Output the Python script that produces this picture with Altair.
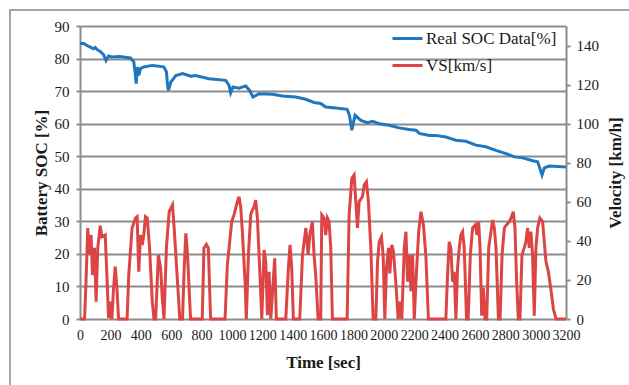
import altair as alt
import pandas as pd

SERIF = "Liberation Serif"
BLUE = "#1f77bf"
RED = "#dd4545"
GRID = "#8c8c8c"
TXT = "#1a1a1a"

# Battery SOC (%) vs time (s)
soc_time = [0, 25, 55, 88, 100, 111, 133, 155, 171, 188,
            210, 260, 332, 354, 362, 370, 378, 387, 398, 420,
            476, 530, 553, 569, 576, 582, 598, 631, 675, 730,
            761, 849, 959, 981, 992, 1007, 1047, 1091, 1117, 1139,
            1179, 1267, 1333, 1420, 1486, 1541, 1585, 1618, 1684, 1759,
            1774, 1790, 1811, 1849, 1893, 1926, 1970, 2035, 2101, 2167,
            2212, 2234, 2300, 2343, 2409, 2475, 2541, 2607, 2673, 2739,
            2805, 2860, 2915, 2980, 3013, 3028, 3042, 3057, 3090, 3200]
soc_pct = [84.6, 84.6, 83.8, 83.0, 83.4, 82.8, 82.2, 81.2, 79.4, 80.8,
           80.5, 80.6, 80.2, 79.0, 76.0, 72.3, 77.4, 74.8, 76.9, 77.4,
           77.9, 77.6, 77.4, 75.9, 72.0, 70.2, 72.8, 74.8, 75.4, 74.6,
           74.8, 73.8, 73.3, 71.8, 69.5, 71.3, 70.9, 71.6, 70.2, 68.2,
           69.2, 69.0, 68.5, 68.2, 67.5, 66.5, 66.2, 65.1, 64.8, 64.4,
           62.6, 58.0, 62.6, 61.0, 60.3, 60.7, 60.0, 59.5, 58.7, 58.2,
           58.0, 57.0, 56.4, 56.4, 55.9, 54.9, 54.6, 53.4, 52.9, 51.8,
           50.8, 49.8, 49.5, 48.6, 48.3, 46.2, 44.2, 46.4, 47.0, 46.7]

# Vehicle speed (km/h) vs time (s)
vs_time = [0, 30, 40, 51, 60, 73, 82, 95, 106, 117,
           133, 144, 166, 177, 188, 199, 210, 221, 232, 243,
           254, 310, 321, 343, 365, 376, 387, 398, 410, 420,
           431, 443, 458, 476, 487, 498, 516, 531, 542, 553,
           569, 587, 609, 620, 642, 657, 675, 686, 697, 708,
           728, 805, 816, 832, 845, 860, 955, 970, 999, 1014,
           1036, 1047, 1058, 1069, 1087, 1095, 1109, 1124, 1135, 1146,
           1157, 1168, 1183, 1197, 1212, 1223, 1234, 1245, 1256, 1267,
           1282, 1293, 1355, 1372, 1383, 1394, 1405, 1447, 1465, 1487,
           1502, 1513, 1530, 1541, 1552, 1568, 1585, 1592, 1607, 1618,
           1629, 1640, 1651, 1662, 1759, 1772, 1790, 1805, 1816, 1827,
           1838, 1860, 1871, 1886, 1899, 1915, 1930, 1948, 1959, 1970,
           1985, 1996, 2007, 2018, 2031, 2040, 2053, 2064, 2079, 2095,
           2106, 2119, 2135, 2146, 2157, 2168, 2179, 2190, 2201, 2212,
           2230, 2245, 2261, 2277, 2294, 2409, 2420, 2431, 2442, 2453,
           2464, 2475, 2486, 2497, 2508, 2519, 2530, 2545, 2556, 2570,
           2585, 2603, 2614, 2625, 2634, 2645, 2656, 2667, 2678, 2691,
           2706, 2717, 2728, 2739, 2755, 2766, 2779, 2794, 2809, 2827,
           2838, 2853, 2864, 2875, 2886, 2897, 2910, 2925, 2936, 2947,
           2958, 2969, 2980, 2991, 3002, 3013, 3028, 3046, 3057, 3068,
           3084, 3102, 3117, 3134, 3200]
vs_kmh = [0, 0, 20, 46.6, 32.8, 43, 22.5, 36.4, 8.9, 36.4,
          47.8, 42.1, 43, 22.5, 0.5, 8.9, 0, 15.9, 26.8, 15.9,
          0, 0, 22.5, 46.6, 51.7, 52.4, 24.2, 43, 37.9, 43,
          52.4, 51.7, 36.4, 8.9, 0, 0, 32.8, 26, 10.6, 0,
          36.4, 54.9, 58.4, 46.6, 19.1, 0, 0, 26, 43.9, 32.8,
          0, 0, 36.4, 38.2, 36.4, 0, 0, 27.6, 49.8, 53.3,
          60.1, 62.6, 57.5, 44.7, 19.1, 0, 32.8, 53.3, 55.8, 57.5,
          60.9, 51.7, 26, 0, 35.3, 29.4, 2, 24.2, 0, 12.7,
          31.1, 0, 0, 26, 37.9, 26, 0, 0, 32.8, 46.6,
          32.8, 43, 49.8, 32.8, 22.5, 0, 0, 53.3, 51.7, 43,
          51.7, 49.8, 36.4, 0, 0, 53.3, 72, 73.7, 60.1, 46.6,
          60.1, 62.6, 68.6, 70.3, 60.1, 36.4, 0, 0, 29.4, 39.5,
          42.1, 32.8, 0, 26, 36.4, 23.3, 37.9, 34.6, 19.1, 0,
          8.9, 0, 36.4, 44.7, 19.1, 32.8, 14.2, 32.8, 0, 19.1,
          44.7, 54.9, 48.3, 32.8, 0, 0, 22.5, 39.5, 36.4, 19.1,
          24.2, 0, 26, 36.4, 43, 44.7, 36.4, 0, 0, 32.8,
          46.6, 48.3, 43, 49.8, 36.4, 1.7, 15.9, 0, 0, 36.4,
          44.7, 50.7, 46.6, 36.4, 0, 0, 32.8, 46.6, 48.3, 49.8,
          51.7, 54.9, 46.6, 19.1, 0, 0, 32.8, 36.4, 39.5, 46.6,
          36.4, 44.7, 32.8, 1.7, 36.4, 46.6, 51.7, 49.8, 39.5, 29.4,
          24.2, 14.2, 5.1, 0, 0]

series_names = ["Real SOC Data[%]", "VS[km/s]"]
x_ticks = list(range(0, 3201, 200))
soc_ticks = list(range(0, 91, 10))
vel_ticks = list(range(0, 141, 20))

soc_df = pd.DataFrame({"t": soc_time, "v": soc_pct, "series": series_names[0]})
vs_df = pd.DataFrame({"t": vs_time, "v": vs_kmh, "series": series_names[1]})

W, H = 486, 293

color = alt.Color(
    "series:N",
    scale=alt.Scale(domain=series_names, range=[BLUE, RED]),
    legend=alt.Legend(
        title=None, orient="none", legendX=311, legendY=-4,
        symbolType="stroke", symbolSize=900, symbolStrokeWidth=3,
        labelFont=SERIF, labelFontSize=17, labelColor=TXT,
        labelOffset=2, rowPadding=2, padding=0,
    ),
)

x_enc = alt.X(
    "t:Q",
    scale=alt.Scale(domain=[0, 3200], nice=False, zero=False),
    axis=alt.Axis(
        values=x_ticks, format="d", title="Time [sec]",
        labelOverlap=False, labelFlush=False,
        grid=False, ticks=False, domain=False,
        labelFont=SERIF, labelFontSize=14, labelColor=TXT, labelPadding=9,
        titleFont=SERIF, titleFontSize=17, titleFontWeight="bold", titleColor=TXT,
        titleX=W / 2, titleY=48, titleBaseline="alphabetic", titleAlign="center",
    ),
)

frame = alt.Chart(pd.DataFrame({"k": [0]})).mark_rect(
    fillOpacity=0, stroke="#a6a6a6", strokeWidth=2
).encode(
    x=alt.value(-70), x2=alt.value(640), y=alt.value(-16), y2=alt.value(420)
)

soc_line = alt.Chart(soc_df).mark_line(strokeWidth=3).encode(
    x=x_enc,
    y=alt.Y(
        "v:Q",
        scale=alt.Scale(domain=[0, 90], nice=False),
        axis=alt.Axis(
            values=soc_ticks, title="Battery SOC [%]",
            grid=True, gridColor=GRID, gridWidth=2,
            domain=True, domainColor=GRID, domainWidth=2,
            ticks=True, tickColor=GRID, tickWidth=2, tickSize=4,
            labelFont=SERIF, labelFontSize=15, labelColor=TXT, labelPadding=7,
            titleFont=SERIF, titleFontSize=17, titleFontWeight="bold", titleColor=TXT,
            titleX=-39, titleY=H / 2, titleAngle=270, titleAlign="center",
            titleBaseline="middle",
        ),
    ),
    color=color,
)

vs_line = alt.Chart(vs_df).mark_line(strokeWidth=3).encode(
    x=x_enc,
    y=alt.Y(
        "v:Q",
        scale=alt.Scale(domain=[0, 150], nice=False),
        axis=alt.Axis(
            orient="right", values=vel_ticks, title="Velocity [km/h]",
            grid=False,
            domain=True, domainColor=GRID, domainWidth=2,
            ticks=True, tickColor=GRID, tickWidth=2, tickSize=4,
            labelFont=SERIF, labelFontSize=15, labelColor=TXT, labelPadding=6,
            titleFont=SERIF, titleFontSize=17, titleFontWeight="bold", titleColor=TXT,
            titleX=49, titleY=H / 2, titleAngle=270, titleAlign="center",
            titleBaseline="middle",
        ),
    ),
    color=color,
)

chart = alt.layer(frame, soc_line, vs_line).resolve_scale(
    y="independent"
).properties(
    width=W, height=H,
    autosize="none",
    padding={"left": 80, "top": 26, "right": 629 - 80 - W, "bottom": 385 - 26 - H},
    background="white",
).configure_view(stroke=None)

chart.save("out.html", embed_options={"renderer": "svg", "actions": False})
